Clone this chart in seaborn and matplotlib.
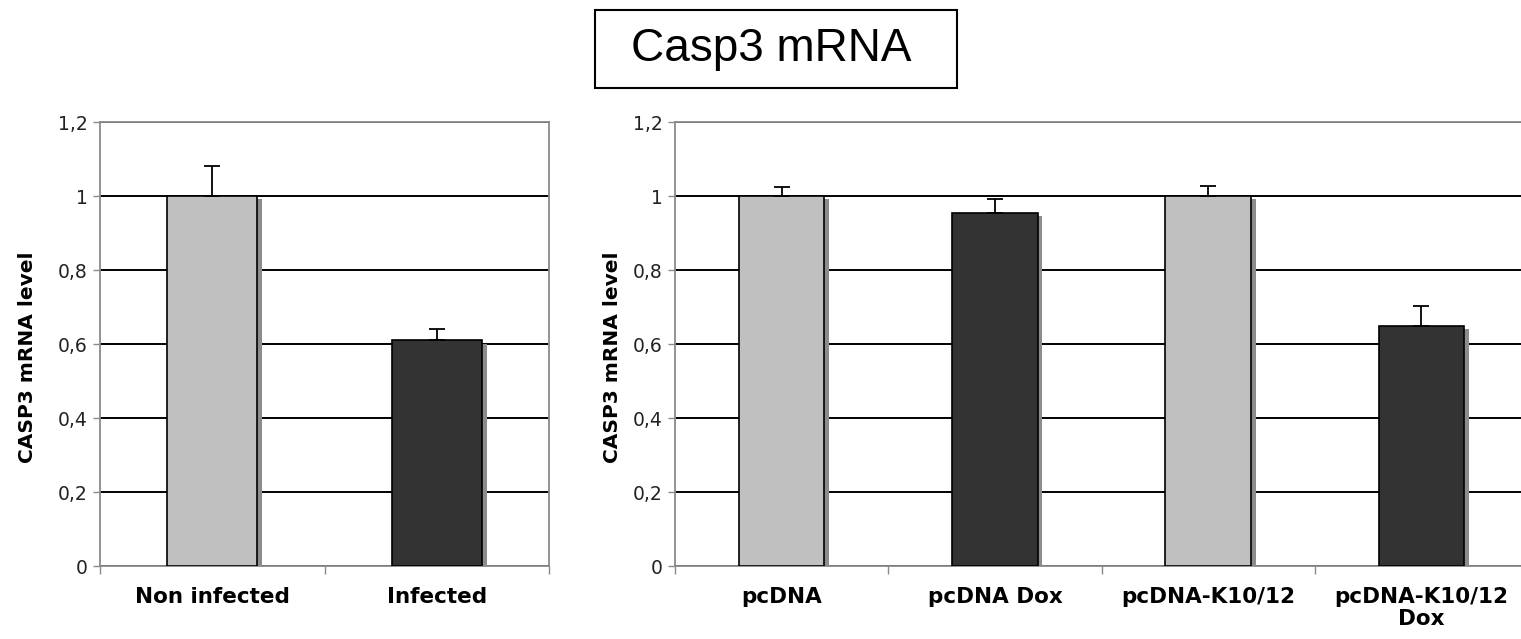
import numpy as np
import pandas as pd
import matplotlib
matplotlib.use("Agg")
import matplotlib.pyplot as plt
import matplotlib.patheffects as pe
from matplotlib.patches import Rectangle
from matplotlib.ticker import FixedLocator, FuncFormatter
import seaborn as sns

# ---- data ----
left_categories = ["Non infected", "Infected"]
left_values = [1.0, 0.61]
left_errors = [0.08, 0.03]

right_categories = ["pcDNA", "pcDNA Dox", "pcDNA-K10/12", "pcDNA-K10/12\nDox"]
right_values = [1.0, 0.955, 1.0, 0.65]
right_errors = [0.025, 0.037, 0.027, 0.052]

ylabel_text = "CASP3 mRNA level"
title_text = "Casp3 mRNA"
y_ticks = [0, 0.2, 0.4, 0.6, 0.8, 1.0, 1.2]

LIGHT = "#c0c0c0"
DARK = "#333333"

sns.set_theme(style="white")
plt.rcParams["font.family"] = ["DejaVu Sans"]

fig = plt.figure(figsize=(15.21, 6.39), dpi=100)
ax_l = fig.add_axes([100 / 1521, 1 - 566 / 639, 449 / 1521, 444 / 639])
ax_r = fig.add_axes([675 / 1521, 1 - 566 / 639, 853 / 1521, 444 / 639])


def fmt(v, pos):
    if abs(v - round(v)) < 1e-9:
        return f"{int(round(v))}"
    return f"{v:.1f}".replace(".", ",")


def draw(ax, cats, vals, errs, colors, ylab_x):
    df = pd.DataFrame({"cat": cats, "val": vals})
    sns.barplot(data=df, x="cat", y="val", hue="cat", palette=colors,
                legend=False, errorbar=None, width=0.4, dodge=False,
                edgecolor="black", linewidth=1.2, ax=ax, zorder=3)
    for p in ax.patches:
        p.set_path_effects([
            pe.SimplePatchShadow(offset=(3.5, -2.5), shadow_rgbFace="#8c8c8c", alpha=1.0),
            pe.Normal(),
        ])
    xs = np.arange(len(cats))
    ax.errorbar(xs, vals, yerr=[np.zeros(len(errs)), errs], fmt="none",
                ecolor="black", elinewidth=1.3, capsize=5.5, capthick=1.3, zorder=4)
    ax.set_ylim(0, 1.2)
    ax.set_xlim(-0.5, len(cats) - 0.5)
    ax.yaxis.set_major_locator(FixedLocator(y_ticks))
    ax.yaxis.set_major_formatter(FuncFormatter(fmt))
    ax.yaxis.grid(True, color="black", linewidth=1.4)
    ax.xaxis.grid(False)
    ax.set_axisbelow(True)
    for s in ax.spines.values():
        s.set_color("#8a8a8a")
        s.set_linewidth(1.3)
    ax.tick_params(axis="y", which="major", left=True, length=5, width=1,
                   color="#8a8a8a", labelsize=13.5, pad=4, labelcolor="#222222")
    ax.set_xticks(xs)
    ax.set_xticklabels(cats, fontweight="bold", fontsize=15.5, linespacing=1.12)
    ax.tick_params(axis="x", which="major", length=0, pad=15, labelcolor="black")
    ax.set_xticks(np.arange(-0.5, len(cats), 1.0), minor=True)
    ax.tick_params(axis="x", which="minor", bottom=True, length=6, width=1,
                   color="#8a8a8a")
    ax.set_xlabel("")
    ax.set_ylabel(ylabel_text, fontweight="bold", fontsize=14.5, color="black")
    ax.yaxis.set_label_coords(ylab_x, 0.47)


draw(ax_l, left_categories, left_values, left_errors, [LIGHT, DARK], -0.14)
draw(ax_r, right_categories, right_values, right_errors,
     [LIGHT, DARK, LIGHT, DARK], -0.062)
ax_r.spines["right"].set_visible(False)

# title box
fig.patches.append(Rectangle((595 / 1521, 1 - 88 / 639), 362 / 1521, 78 / 639,
                             transform=fig.transFigure, fill=False,
                             edgecolor="black", linewidth=1.5))
fig.text(771 / 1521, 1 - 49 / 639, title_text, ha="center", va="center",
         fontsize=33, family=["Liberation Sans", "DejaVu Sans"], color="black")

fig.savefig("out.png", dpi=100, facecolor="white")
